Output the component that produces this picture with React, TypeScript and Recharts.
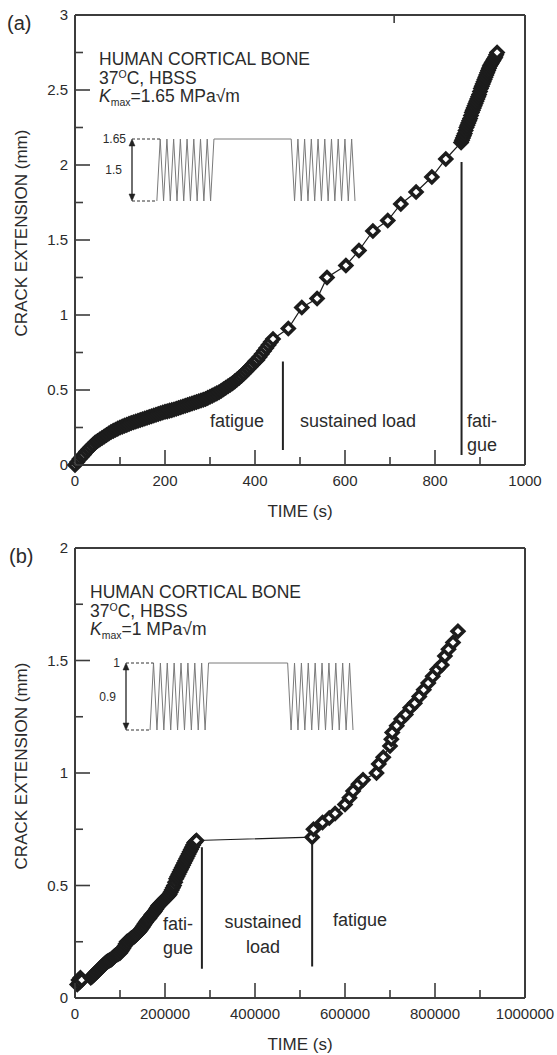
import React from 'react';
import { ComposedChart, LineChart, Line, XAxis, YAxis, ReferenceLine } from 'recharts';

// (a) Kmax = 1.65 MPa√m, time in seconds
const timeA = [
  0, 5, 10, 15, 20, 25, 30, 35, 40, 45, 50, 55, 60, 65, 70, 75, 80, 85, 90, 95,
  100, 105, 110, 115, 120, 125, 130, 135, 140, 145, 150, 155, 160, 165, 170, 175,
  180, 185, 190, 195, 200, 205, 210, 215, 220, 225, 230, 235, 240, 245, 250, 255,
  260, 265, 270, 275, 280, 285, 290, 295, 300, 305, 310, 315, 320, 325, 330, 335,
  340, 345, 350, 355, 360, 365, 370, 375, 380, 385, 390, 395, 400, 405, 410, 415,
  420, 425, 430, 435, 440,
  474, 504, 538, 560, 602, 631, 662, 695, 724, 758, 793, 824,
  858, 860, 862, 864, 866, 868, 870, 872, 874, 876, 878, 880, 882, 884, 886, 888,
  890, 892, 894, 896, 898, 900, 902, 904, 906, 908, 910, 912, 914, 916, 918, 920,
  922, 924, 926, 928, 930, 932, 934, 936, 938,
];
const crackA = [
  0, 0.02, 0.04, 0.055, 0.07, 0.09, 0.105, 0.12, 0.135, 0.15, 0.16, 0.17, 0.18, 0.19,
  0.2, 0.21, 0.22, 0.228, 0.235, 0.243,
  0.25, 0.256, 0.262, 0.268, 0.274, 0.28, 0.285, 0.29, 0.295, 0.3, 0.305, 0.31,
  0.315, 0.32, 0.325, 0.33, 0.335, 0.34, 0.345, 0.35, 0.355, 0.358, 0.362, 0.366,
  0.37, 0.375, 0.38, 0.385, 0.39, 0.395, 0.4, 0.405, 0.41, 0.415, 0.42, 0.425,
  0.43, 0.435, 0.44, 0.448, 0.455, 0.462, 0.47, 0.478, 0.485, 0.495, 0.505, 0.515,
  0.525, 0.535, 0.545, 0.557, 0.57, 0.582, 0.595, 0.61, 0.625, 0.64, 0.655, 0.672,
  0.69, 0.7, 0.72, 0.74, 0.76, 0.78, 0.8, 0.82, 0.84,
  0.91, 1.05, 1.11, 1.25, 1.33, 1.43, 1.56, 1.63, 1.74, 1.82, 1.92, 2.04,
  2.15, 2.165, 2.18, 2.195, 2.21, 2.23, 2.25, 2.265, 2.28, 2.295, 2.31, 2.33, 2.35,
  2.365, 2.38, 2.395, 2.41, 2.425, 2.44, 2.455, 2.47, 2.49, 2.51, 2.525, 2.54, 2.555,
  2.57, 2.585, 2.6, 2.615, 2.63, 2.645, 2.66, 2.67, 2.68, 2.69, 2.7, 2.71, 2.72,
  2.735, 2.75,
];

// (b) Kmax = 1 MPa√m
const timeB = [
  5000, 8000, 10000, 12000, 15000,
  35000, 37500, 40000, 42500, 45000, 47500, 50000, 52500, 55000, 57500, 60000, 62500,
  65000, 67500, 70000, 72500, 75000, 77500, 80000, 82500, 85000, 87500, 90000, 92500,
  95000, 97500, 100000, 102500, 105000, 107500, 110000, 112500, 115000, 117500, 120000,
  122500, 125000, 127500, 130000, 132500, 135000, 137500, 140000, 142500, 145000,
  147500, 150000, 152500, 155000, 157500, 160000, 162500, 165000, 167500, 170000,
  172500, 175000, 177500, 180000, 182500, 185000, 187500, 190000, 192500, 195000,
  197500, 200000, 202500, 205000, 207500, 210000, 212500, 215000, 217500, 220000,
  222500, 225000, 227500, 230000, 232500, 235000, 237500, 240000, 242500, 245000,
  247500, 250000, 252500, 255000, 257500, 260000, 262500, 265000, 267500, 270000,
  527000, 530000, 550000, 565000, 578000, 600000, 610000, 618000, 630000, 640000, 670000,
  675000, 685000, 700000, 703000, 705000, 715000, 725000, 735000, 745000, 755000, 765000,
  775000, 785000, 795000, 805000, 815000, 822000, 830000, 840000, 851000,
];
const crackB = [
  0.06, 0.08, 0.07, 0.09, 0.08,
  0.09, 0.095, 0.1, 0.105, 0.11, 0.115, 0.12, 0.125, 0.13, 0.135, 0.14, 0.145,
  0.15, 0.155, 0.16, 0.163, 0.165, 0.168, 0.17, 0.175, 0.18, 0.185, 0.19, 0.193,
  0.195, 0.198, 0.2, 0.207, 0.215, 0.222, 0.23, 0.24, 0.25, 0.252, 0.255,
  0.26, 0.265, 0.268, 0.27, 0.275, 0.28, 0.285, 0.29, 0.295, 0.3,
  0.308, 0.315, 0.322, 0.33, 0.337, 0.345, 0.35, 0.355, 0.362, 0.37,
  0.375, 0.38, 0.387, 0.395, 0.402, 0.41, 0.415, 0.42, 0.425, 0.43,
  0.435, 0.44, 0.445, 0.45, 0.455, 0.46, 0.47, 0.48, 0.49, 0.5,
  0.515, 0.53, 0.54, 0.55, 0.56, 0.57, 0.58, 0.59, 0.6, 0.61,
  0.62, 0.63, 0.64, 0.65, 0.66, 0.67, 0.68, 0.69, 0.695, 0.7,
  0.715, 0.75, 0.78, 0.8, 0.82, 0.86, 0.89, 0.92, 0.95, 0.97, 1.0,
  1.04, 1.07, 1.12, 1.15, 1.18, 1.21, 1.24, 1.26, 1.29, 1.31, 1.34,
  1.37, 1.4, 1.43, 1.46, 1.48, 1.52, 1.55, 1.58, 1.63,
];

const xTicksA = [0, 100, 200, 300, 400, 500, 600, 700, 800, 900, 1000];
const yTicksA = [0, 0.25, 0.5, 0.75, 1, 1.25, 1.5, 1.75, 2, 2.25, 2.5, 2.75, 3];
const xTicksB = [0, 100000, 200000, 300000, 400000, 500000, 600000, 700000, 800000, 900000, 1000000];
const yTicksB = [0, 0.25, 0.5, 0.75, 1, 1.25, 1.5, 1.75, 2];

// loading-block sketch: cycle position and peak/valley of each turning point
const waveX = [
  0, 0.5, 1, 1.5, 2, 2.5, 3, 3.5, 4, 4.5, 5, 5.5, 6, 6.5, 7, 7.5, 8, 8.5,
  20, 20.5, 21, 21.5, 22, 22.5, 23, 23.5, 24, 24.5, 25, 25.5, 26, 26.5, 27, 27.5, 28,
  28.5, 29, 29.5,
];
const wavePhase = [
  'L', 'H', 'L', 'H', 'L', 'H', 'L', 'H', 'L', 'H', 'L', 'H', 'L', 'H', 'L', 'H', 'L', 'H',
  'H', 'L', 'H', 'L', 'H', 'L', 'H', 'L', 'H', 'L', 'H', 'L', 'H', 'L', 'H', 'L', 'H',
  'L', 'H', 'L',
];

// stage boundaries [time, bottom, top]
const stagesA = [
  [462, 0.1, 0.69],
  [859, 0.067, 2.02],
];
const stagesB = [
  [282000, 0.13, 0.67],
  [527000, 0.14, 0.71],
];

const FONT = '"Liberation Sans", Arial, Helvetica, sans-serif';
const INK = '#2b2b2b';
const AXIS = '#3c3c3c';

type Side = 'bottom' | 'top' | 'left' | 'right';

const tickShape = (side: Side, step: number, labelled: boolean) => (props: any) => {
  const { x, y, payload } = props;
  const v = payload.value as number;
  const major = Math.abs(v / step - Math.round(v / step)) < 1e-6;
  const len = major ? 15 : 8;
  let line;
  if (side === 'bottom') line = <line x1={x} y1={y} x2={x} y2={y - len} />;
  else if (side === 'top') line = <line x1={x} y1={y} x2={x} y2={y + len} />;
  else if (side === 'left') line = <line x1={x} y1={y} x2={x + len} y2={y} />;
  else line = <line x1={x} y1={y} x2={x - len} y2={y} />;
  return (
    <g>
      <g stroke={AXIS} strokeWidth={1.6}>{line}</g>
      {labelled && major && side === 'bottom' && (
        <text x={x} y={y + 21} textAnchor="middle" fontSize={15} fill={INK} fontFamily={FONT}>
          {String(v)}
        </text>
      )}
      {labelled && major && side === 'left' && (
        <text x={x - 7} y={y + 5} textAnchor="end" fontSize={15} fill={INK} fontFamily={FONT}>
          {String(v)}
        </text>
      )}
    </g>
  );
};

const Diamond = (p: any) => {
  const { cx, cy } = p;
  if (cx == null || cy == null) return <g />;
  const r = 5.8;
  return (
    <path
      d={`M${cx},${cy - r}L${cx + r},${cy}L${cx},${cy + r}L${cx - r},${cy}Z`}
      fill="#fff"
      stroke="#1c1c1c"
      strokeWidth={3.6}
    />
  );
};

const Arrow = (p: any) => {
  const { x1, y1, x2, y2 } = p;
  const top = Math.min(y1, y2);
  const bot = Math.max(y1, y2);
  return (
    <g fill="#222" stroke="#222">
      <line x1={x1} y1={top + 3} x2={x2} y2={bot - 3} strokeWidth={1.3} />
      <path d={`M${x1},${top}L${x1 - 3},${top + 7}L${x1 + 3},${top + 7}Z`} strokeWidth={0.5} />
      <path d={`M${x1},${bot}L${x1 - 3},${bot - 7}L${x1 + 3},${bot - 7}Z`} strokeWidth={0.5} />
    </g>
  );
};

type InsetProps = {
  left: number;
  top: number;
  plotW: number;
  plotH: number;
  hi: number;
  lo: number;
  hiLabel: string;
  rangeLabel: string;
  x0: number;
};

const Inset = ({ left, top, plotW, plotH, hi, lo, hiLabel, rangeLabel, x0 }: InsetProps) => {
  const wave = waveX.map((x, i) => ({ x, k: wavePhase[i] === 'H' ? hi : lo }));
  const m = { top: 6, right: 4, bottom: 6, left: 45 };
  const dash = { stroke: '#333', strokeDasharray: '3 2', strokeWidth: 1 };
  const lab = { fontSize: 12, fill: INK, fontFamily: FONT };
  return (
    <div style={{ position: 'absolute', left: left - m.left, top: top - m.top }}>
      <LineChart width={plotW + m.left + m.right} height={plotH + m.top + m.bottom} data={wave} margin={m}>
        <XAxis type="number" dataKey="x" domain={[x0, 29.5]} hide />
        <YAxis type="number" domain={[lo, hi]} hide />
        <Line dataKey="k" type="linear" stroke="#7a7a7a" strokeWidth={1} dot={false} isAnimationActive={false} />
        <ReferenceLine
          segment={[{ x: x0, y: hi }, { x: 0.5, y: hi }]}
          {...dash}
          label={{ value: hiLabel, position: 'left', offset: 6, ...lab }}
        />
        <ReferenceLine segment={[{ x: x0, y: lo }, { x: 0, y: lo }]} {...dash} />
        <ReferenceLine
          segment={[{ x: x0, y: lo }, { x: x0, y: hi }]}
          shape={Arrow}
          label={{ value: rangeLabel, position: 'left', offset: 10, ...lab }}
        />
      </LineChart>
    </div>
  );
};

type PanelProps = {
  tag: string;
  top: number;
  height: number;
  plotTop: number;
  times: number[];
  cracks: number[];
  xTicks: number[];
  yTicks: number[];
  xStep: number;
  stages: number[][];
  kText: string;
  textX: number;
  children?: React.ReactNode;
};

const Panel = ({ tag, top, height, plotTop, times, cracks, xTicks, yTicks, xStep, stages, kText, textX, children }: PanelProps) => {
  const data = times.map((t, i) => ({ t, a: cracks[i] }));
  const xDom = [xTicks[0], xTicks[xTicks.length - 1]];
  const yDom = [yTicks[0], yTicks[yTicks.length - 1]];
  const plotBottom = plotTop + 450;
  // every axis band is 1px wide, so the plot spans x 75..525
  const margin = { top: plotTop - 1, right: 31, bottom: height - plotBottom - 1, left: 74 };
  const axisLine = { stroke: AXIS, strokeWidth: 2 };
  const t = { fontFamily: FONT, fill: INK };
  return (
    <div style={{ position: 'absolute', left: 0, top }}>
      <ComposedChart width={557} height={height} data={data} margin={margin}>
        <XAxis xAxisId="b" type="number" dataKey="t" domain={xDom} ticks={xTicks} interval={0}
          height={1} tickSize={0} tickMargin={0} tickLine={false} axisLine={axisLine}
          tick={tickShape('bottom', xStep, true)} />
        <XAxis xAxisId="t" orientation="top" type="number" domain={xDom} ticks={xTicks} interval={0}
          height={1} tickSize={0} tickMargin={0} tickLine={false} axisLine={axisLine}
          tick={tickShape('top', xStep, false)} />
        <YAxis yAxisId="l" type="number" domain={yDom} ticks={yTicks} interval={0}
          width={1} tickSize={0} tickMargin={0} tickLine={false} axisLine={axisLine}
          tick={tickShape('left', 0.5, true)} />
        <YAxis yAxisId="r" orientation="right" type="number" domain={yDom} ticks={yTicks} interval={0}
          width={1} tickSize={0} tickMargin={0} tickLine={false} axisLine={axisLine}
          tick={tickShape('right', 0.5, false)} />
        {stages.map(([x, y0, y1], i) => (
          <ReferenceLine key={i} xAxisId="b" yAxisId="l"
            segment={[{ x, y: y0 }, { x, y: y1 }]} stroke="#222" strokeWidth={2} />
        ))}
        <Line xAxisId="b" yAxisId="l" dataKey="a" type="linear" stroke="#1c1c1c" strokeWidth={1.2}
          dot={Diamond} isAnimationActive={false} />

        <text x={tag === '(a)' ? 7 : 9} y={plotTop + 15} fontSize={20} {...t}>{tag}</text>
        <text x={textX} y={plotTop + 50} fontSize={17.5} {...t}>HUMAN CORTICAL BONE</text>
        <text x={textX} y={plotTop + 68.5} fontSize={17.5} {...t}>
          37<tspan fontSize={10.5} dy={-5.5}>O</tspan>
          <tspan dy={5.5}>C, HBSS</tspan>
        </text>
        <text x={textX} y={plotTop + 86.5} fontSize={17.5} {...t}>
          <tspan fontStyle="italic">K</tspan>
          <tspan fontSize={10.5} dy={4}>max</tspan>
          <tspan dy={-4}>{kText}</tspan>
        </text>
        <text x={300} y={plotBottom + 52} fontSize={17} textAnchor="middle" {...t}>TIME (s)</text>
        <text x={27} y={plotTop + 218} fontSize={17} textAnchor="middle"
          transform={`rotate(-90, 27, ${plotTop + 218})`} {...t}>CRACK EXTENSION (mm)</text>
        {children}
      </ComposedChart>
    </div>
  );
};

const App = () => {
  const note = { fontFamily: FONT, fill: INK, fontSize: 18 };
  return (
    <div style={{ position: 'absolute', left: 0, top: 0, width: 557, height: 1055, background: '#fff' }}>
      <Panel tag="(a)" top={0} height={520} plotTop={15} times={timeA} cracks={crackA}
        xTicks={xTicksA} yTicks={yTicksA} xStep={200} stages={stagesA} kText="=1.65 MPa√m" textX={99}>
        <text x={210} y={427} {...note}>fatigue</text>
        <text x={300} y={427} {...note}>sustained load</text>
        <text x={467} y={427} {...note}>fati-</text>
        <text x={467} y={451} {...note}>gue</text>
      </Panel>
      <Inset left={132} top={139} plotW={223} plotH={62} hi={1.65} lo={0.15}
        hiLabel="1.65" rangeLabel="1.5" x0={-3.7} />

      <Panel tag="(b)" top={520} height={535} plotTop={28} times={timeB} cracks={crackB}
        xTicks={xTicksB} yTicks={yTicksB} xStep={200000} stages={stagesB} kText="=1 MPa√m" textX={90}>
        <text x={163} y={410} {...note}>fati-</text>
        <text x={163} y={434} {...note}>gue</text>
        <text x={263} y={408} textAnchor="middle" {...note}>sustained</text>
        <text x={263} y={433} textAnchor="middle" {...note}>load</text>
        <text x={333} y={406} {...note}>fatigue</text>
      </Panel>
      <Inset left={126} top={663} plotW={227} plotH={67} hi={1} lo={0.1}
        hiLabel="1" rangeLabel="0.9" x0={-3.5} />
    </div>
  );
};

export default App;
